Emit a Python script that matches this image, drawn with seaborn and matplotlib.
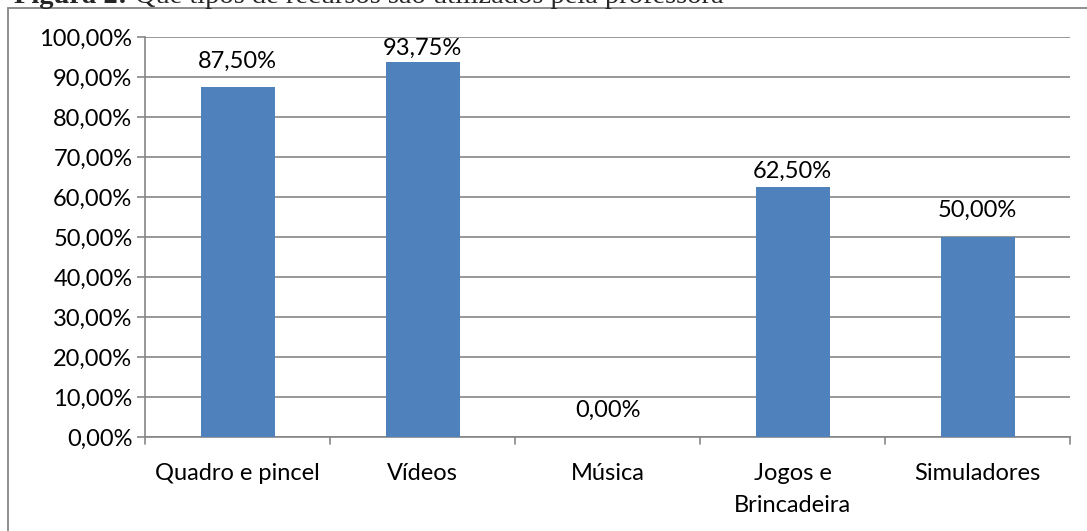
import matplotlib
matplotlib.use("Agg")
import matplotlib.pyplot as plt
import seaborn as sns
import pandas as pd
from matplotlib.patches import Rectangle

categories = ["Quadro e pincel", "Vídeos", "Música", "Jogos e\nBrincadeira", "Simuladores"]
values = [87.50, 93.75, 0.00, 62.50, 50.00]
value_labels = ["87,50%", "93,75%", "0,00%", "62,50%", "50,00%"]
yticks = [0, 10, 20, 30, 40, 50, 60, 70, 80, 90, 100]
ytick_labels = ["0,00%", "10,00%", "20,00%", "30,00%", "40,00%", "50,00%",
                "60,00%", "70,00%", "80,00%", "90,00%", "100,00%"]

# label gap above bar, in pixels (style)
label_gap_px = [19, 7, 20, 9, 20]

sns.set_style("white")
plt.rcParams['font.family'] = ['Lato', 'DejaVu Sans']

FS = 17

df = pd.DataFrame({"cat": categories, "val": values})

fig = plt.figure(figsize=(10.87, 5.31), dpi=100)
ax = fig.add_axes([145/1087, 1-437/531, (1070-145)/1087, 400/531])

sns.barplot(data=df, x="cat", y="val", color="#4F81BD", saturation=1, width=0.4, ax=ax, zorder=3)
for p in ax.patches:
    p.set_edgecolor("none")

ax.set_ylim(0, 100)
ax.set_xlim(-0.5, len(categories)-0.5)
ax.set_yticks(yticks)
ax.set_yticklabels(ytick_labels, fontsize=FS, color="#000000")
ax.set_xticks(range(len(categories)))
ax.set_xticklabels(categories, fontsize=FS, color="#000000", linespacing=1.6)
ax.tick_params(axis='x', length=0, pad=19)
ax.tick_params(axis='y', length=6, width=1.2, color="#868686", pad=3, direction='out', left=True)
ax.set_xlabel("")
ax.set_ylabel("")
ax.yaxis.grid(True, color="#868686", linewidth=1.2, zorder=0)
ax.set_axisbelow(True)
for s in ["top", "right"]:
    ax.spines[s].set_visible(False)
for s in ["left", "bottom"]:
    ax.spines[s].set_color("#868686")
    ax.spines[s].set_linewidth(1.2)

# category boundary ticks on x-axis
for b in [i - 0.5 for i in range(len(categories)+1)]:
    ax.plot([b, b], [0, -1.8], color="#868686", linewidth=1.2, clip_on=False, zorder=4)

for i, (v, lab, g) in enumerate(zip(values, value_labels, label_gap_px)):
    ax.annotate(lab, xy=(i, v), xytext=(0, g * 0.72), textcoords="offset points",
                ha="center", va="baseline", fontsize=FS, color="#000000", annotation_clip=False)

# outer chart frame
fig.patches.append(Rectangle((7.5/1087, -0.05), 1.1, 1-7.5/531+0.05, transform=fig.transFigure,
                             fill=False, edgecolor="#868686", linewidth=1.3))

# clipped caption at top
cap_y = 1 - 3/531
fig.text(127/1087, cap_y, "Figura 2:", fontsize=20.5, fontweight="bold",
         family="Liberation Serif", ha="right", va="baseline")
fig.text(135/1087, cap_y, "Que tipos de recursos são utilizados pela professora", fontsize=20.5,
         family="Liberation Serif", ha="left", va="baseline")

fig.savefig("out.png", dpi=100)
